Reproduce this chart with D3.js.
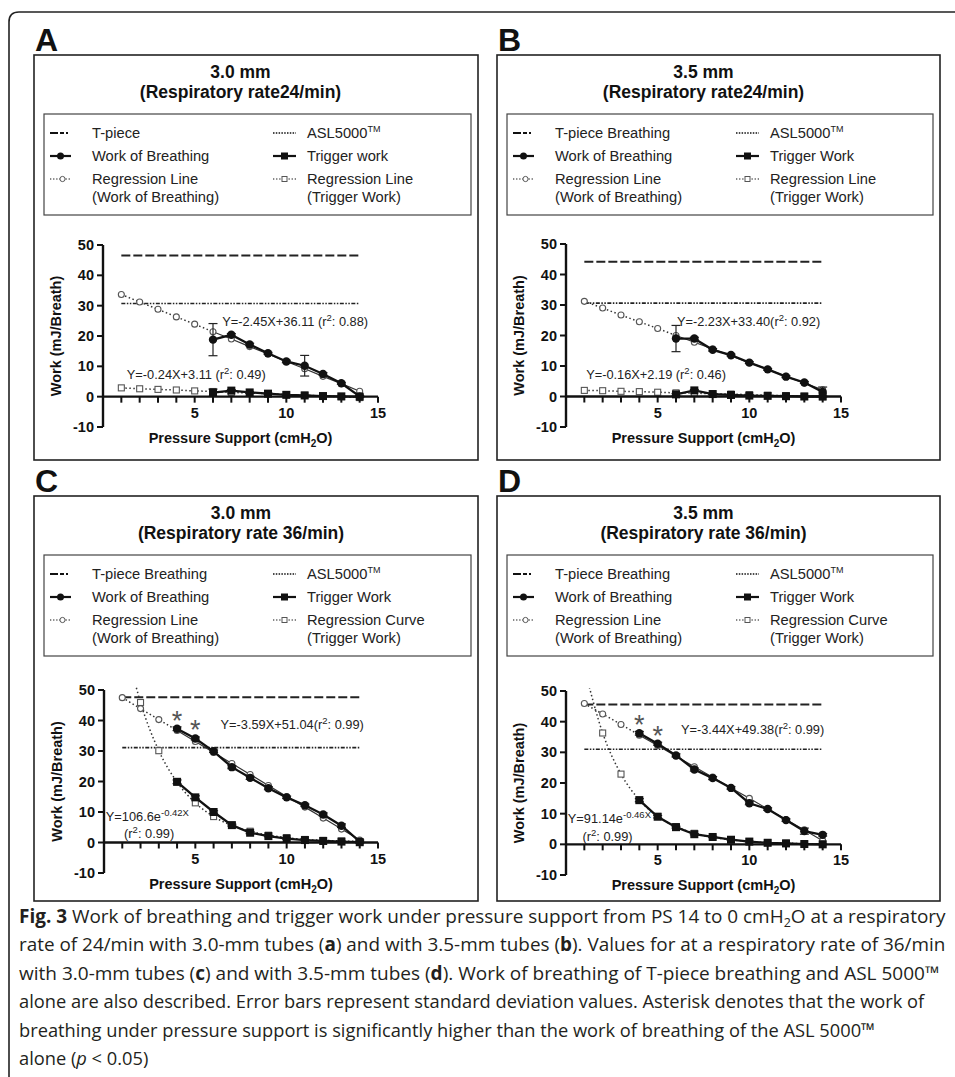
<!DOCTYPE html>
<html><head><meta charset="utf-8">
<script src="https://cdn.jsdelivr.net/npm/d3@7"></script>
<style>body{margin:0;background:#fff}svg{display:block}</style>
</head><body>
<svg id="c" width="955" height="1077"></svg>
<script>
// ---------------- DATA ----------------
const psAll = [1,2,3,4,5,6,7,8,9,10,11,12,13,14];
const xTicks = [5,10,15];
const xMinorTicks = [1,2,3,4,5,6,7,8,9,10,11,12,13,14,15];
const yTicks = [-10,0,10,20,30,40,50];

// Panel A : 3.0 mm, RR 24/min
const psMeasA = [6,7,8,9,10,11,12,13,14];
const wobA    = [18.8,20.4,17.2,14.3,11.6,10.2,7.5,4.4,0.1];
const wobSdA  = [5.3,0.4,0.4,0.3,0.4,3.4,0.4,0.3,0.3];
const trigA   = [1.3,2.0,1.4,1.0,0.6,0.4,0.2,0.1,0.0];
const trigSdA = [1.2,0.3,0.2,0.2,0.1,0.1,0.1,0.1,0.1];
const wobRegA = [33.7,31.2,28.8,26.3,23.9,21.4,19.0,16.5,14.1,11.6,9.2,6.7,4.3,1.8];
const trigRegA= [2.9,2.6,2.4,2.2,1.9,1.7,1.4,1.2,1.0,0.7,0.5,0.2,0.0,-0.3];
const tpieceA = 46.5, aslA = 30.7;

// Panel B : 3.5 mm, RR 24/min
const psMeasB = [6,7,8,9,10,11,12,13,14];
const wobB    = [19.0,19.0,15.3,13.6,11.1,8.9,6.5,4.6,1.5];
const wobSdB  = [4.3,0.4,0.4,0.3,0.3,0.3,0.3,0.3,1.6];
const trigB   = [0.7,2.0,0.8,0.5,0.3,0.2,0.1,0.0,0.0];
const trigSdB = [0.3,0.3,0.2,0.2,0.1,0.1,0.1,0.1,0.1];
const wobRegB = [31.2,29.0,26.7,24.5,22.3,20.0,17.8,15.6,13.3,11.1,8.9,6.6,4.4,2.2];
const trigRegB= [2.0,1.9,1.7,1.6,1.4,1.2,1.1,0.9,0.8,0.6,0.4,0.3,0.1,-0.1];
const tpieceB = 44.2, aslB = 30.6;

// Panel C : 3.0 mm, RR 36/min
const psMeasC = [4,5,6,7,8,9,10,11,12,13,14];
const wobC    = [37.3,34.1,29.9,24.7,21.2,17.8,14.8,12.2,9.2,5.5,0.3];
const wobSdC  = [0.6,0.5,0.4,0.5,0.5,0.5,0.4,0.4,0.5,0.6,0.5];
const trigC   = [19.9,14.8,10.0,5.7,3.2,2.1,1.3,0.8,0.5,0.3,0.1];
const trigSdC = [0.6,0.5,0.4,0.3,0.3,0.2,0.2,0.1,0.1,0.1,0.1];
const wobRegC = [47.5,43.9,40.3,36.7,33.1,29.5,25.9,22.3,18.7,15.1,11.6,8.0,4.4,0.8];
const trigRegC= [69.9,45.9,30.1,19.8,13.0,8.5,5.6,3.7,2.4,1.6,1.0,0.7,0.5,0.3];
const tpieceC = 47.6, aslC = 31.1;

// Panel D : 3.5 mm, RR 36/min
const psMeasD = [4,5,6,7,8,9,10,11,12,13,14];
const wobD    = [36.2,32.8,29.0,24.4,21.6,18.4,13.4,11.5,7.9,4.3,3.1];
const wobSdD  = [0.6,0.5,0.5,0.5,0.5,0.4,0.5,0.4,0.4,1.0,0.4];
const trigD   = [14.4,9.0,5.6,3.3,2.4,1.5,0.9,0.5,0.3,0.1,0.0];
const trigSdD = [0.5,0.4,0.3,0.2,0.2,0.1,0.1,0.1,0.1,0.1,0.1];
const wobRegD = [45.9,42.5,39.1,35.6,32.2,28.7,25.3,21.9,18.4,15.0,11.5,8.1,4.7,1.2];
const trigRegD= [57.6,36.3,22.9,14.5,9.1,5.8,3.6,2.3,1.5,0.9,0.6,0.4,0.2,0.1];
const tpieceD = 45.6, aslD = 31.0;

const asteriskPs = [4,5];

// ---------------- DRAWING ----------------
const F = "'Liberation Sans', Arial, Helvetica, sans-serif";
const svg = d3.select('#c');
const defs = svg.append('defs');

// outer frame
svg.append('path')
  .attr('d','M9,1077 L9,22 Q9,12 19,12 L955,12')
  .attr('fill','none').attr('stroke','#222').attr('stroke-width',1.6);

function addTM(t){ t.append('tspan').attr('dy',-6).attr('font-size',9).text('TM'); }

function drawPanel(p, idx){
  const g = svg.append('g');
  const [bx,by,bw,bh] = p.box;
  g.append('rect').attr('x',bx).attr('y',by).attr('width',bw).attr('height',bh)
    .attr('fill','none').attr('stroke','#222').attr('stroke-width',1.6);
  g.append('text').attr('x',bx+1).attr('y',by-4).attr('font-family',F)
    .attr('font-size',32).attr('font-weight','bold').attr('fill','#111').text(p.letter);

  const x = d3.scaleLinear().domain([0,15]).range(p.xr);
  const y = d3.scaleLinear().domain([-10,50]).range(p.yr);
  const cx = (p.xr[0]+p.xr[1])/2;

  g.append('text').attr('x',cx).attr('y',by+23).attr('text-anchor','middle')
    .attr('font-family',F).attr('font-size',17.5).attr('font-weight','bold').attr('fill','#111').text(p.title1);
  g.append('text').attr('x',cx).attr('y',by+43).attr('text-anchor','middle')
    .attr('font-family',F).attr('font-size',17.5).attr('font-weight','bold').attr('fill','#111').text(p.title2);

  // legend
  const lx = bx+10, ly = by+59, lw = bw-17, lh = 101;
  g.append('rect').attr('x',lx).attr('y',ly).attr('width',lw).attr('height',lh)
    .attr('fill','none').attr('stroke','#444').attr('stroke-width',1.2);
  const lt = (xx,yy,s)=> g.append('text').attr('x',xx).attr('y',yy).attr('font-family',F)
    .attr('font-size',14.7).attr('fill','#222').text(s);
  const rows = [ly+24, ly+47, ly+70, ly+88];
  const c1s = lx+6, c1e = lx+27, c2s = lx+229, c2e = lx+252;
  const t1 = lx+48, t2 = lx+263;
  const sym = (xs,xe,yy,dash,w)=> g.append('line').attr('x1',xs).attr('x2',xe).attr('y1',yy).attr('y2',yy)
      .attr('stroke','#111').attr('stroke-width',w).attr('stroke-dasharray',dash);
  sym(c1s,c1e,rows[0]-5,'8,2,4,2,2',2);
  sym(c2s,c2e,rows[0]-5,'1.5,1.3',1.4);
  sym(c1s,c1e,rows[1]-5,null,2.2);
  g.append('circle').attr('cx',(c1s+c1e)/2).attr('cy',rows[1]-5).attr('r',3.5).attr('fill','#111');
  sym(c2s,c2e,rows[1]-5,null,2.2);
  g.append('rect').attr('x',(c2s+c2e)/2-3.5).attr('y',rows[1]-8.5).attr('width',7).attr('height',7).attr('fill','#111');
  sym(c1s,c1e,rows[2]-5,'1.3,1.8',1.2);
  g.append('circle').attr('cx',(c1s+c1e)/2+2).attr('cy',rows[2]-5).attr('r',2.6).attr('fill','#fff').attr('stroke','#555').attr('stroke-width',1);
  sym(c2s,c2e,rows[2]-5,'1.3,1.8',1.2);
  g.append('rect').attr('x',(c2s+c2e)/2-2.5).attr('y',rows[2]-7.5).attr('width',5).attr('height',5).attr('fill','#fff').attr('stroke','#555').attr('stroke-width',1);
  lt(t1,rows[0],p.leg[0]);
  const asl = lt(t2,rows[0],p.leg[1]); addTM(asl);
  lt(t1,rows[1],p.leg[2]);
  lt(t2,rows[1],p.leg[3]);
  lt(t1,rows[2],p.leg[4]);
  lt(t2,rows[2],p.leg[5]);
  lt(t1,rows[3],p.leg[6]);
  lt(t2,rows[3],p.leg[7]);

  // clip
  const cid = 'clip'+idx;
  defs.append('clipPath').attr('id',cid).append('rect')
    .attr('x',p.xr[0]).attr('y',y(51)).attr('width',p.xr[1]-p.xr[0]+10).attr('height',y(-10)-y(51));
  const pg = g.append('g').attr('clip-path',`url(#${cid})`);

  // reference lines
  pg.append('line').attr('x1',x(1)).attr('x2',x(14)).attr('y1',y(p.tpiece)).attr('y2',y(p.tpiece))
    .attr('stroke','#222').attr('stroke-width',2).attr('stroke-dasharray','9,3');
  pg.append('line').attr('x1',x(1)).attr('x2',x(14)).attr('y1',y(p.asl)).attr('y2',y(p.asl))
    .attr('stroke','#222').attr('stroke-width',1.6).attr('stroke-dasharray','4,1.5,1.5,1.5,1.5,1.5');

  // regression lines
  const regPts = (arr)=> psAll.map((v,i)=>[v,arr[i]]);
  const ln = d3.line().x(d=>x(d[0])).y(d=>y(d[1]));
  const lnC = d3.line().x(d=>x(d[0])).y(d=>y(d[1])).curve(d3.curveMonotoneX);
  const wr = regPts(p.wobReg), tr = regPts(p.trigReg);
  const first = p.psMeas[0];
  pg.append('path').attr('d',ln(wr.filter(d=>d[0]<=first))).attr('fill','none')
    .attr('stroke','#333').attr('stroke-width',1.5).attr('stroke-dasharray','1.5,2.5');
  pg.append('path').attr('d',ln(wr.filter(d=>d[0]>=first))).attr('fill','none')
    .attr('stroke','#333').attr('stroke-width',1.2);
  pg.append('path').attr('d',(p.curve?lnC:ln)(tr)).attr('fill','none')
    .attr('stroke','#333').attr('stroke-width',1.5).attr('stroke-dasharray','1.5,2.5');
  pg.selectAll(null).data(wr.filter(d=>d[1]<=50)).join('circle')
    .attr('cx',d=>x(d[0])).attr('cy',d=>y(d[1])).attr('r',3)
    .attr('fill','#fff').attr('stroke','#555').attr('stroke-width',1.1);
  pg.selectAll(null).data(tr.filter(d=>d[1]<=50)).join('rect')
    .attr('x',d=>x(d[0])-3).attr('y',d=>y(d[1])-3).attr('width',6).attr('height',6)
    .attr('fill','#fff').attr('stroke','#555').attr('stroke-width',1.1);

  // measured data
  const wm = p.psMeas.map((v,i)=>[v,p.wob[i],p.wobSd[i]]);
  const tm = p.psMeas.map((v,i)=>[v,p.trig[i],p.trigSd[i]]);
  [wm,tm].forEach(arr=>{
    pg.append('path').attr('d',ln(arr)).attr('fill','none').attr('stroke','#111').attr('stroke-width',2.3);
    const eb = pg.selectAll(null).data(arr).join('g').attr('stroke','#222').attr('stroke-width',1.2);
    eb.append('line').attr('x1',d=>x(d[0])).attr('x2',d=>x(d[0])).attr('y1',d=>y(d[1]-d[2])).attr('y2',d=>y(d[1]+d[2]));
    eb.append('line').attr('x1',d=>x(d[0])-4.5).attr('x2',d=>x(d[0])+4.5).attr('y1',d=>y(d[1]+d[2])).attr('y2',d=>y(d[1]+d[2]));
    eb.append('line').attr('x1',d=>x(d[0])-4.5).attr('x2',d=>x(d[0])+4.5).attr('y1',d=>y(d[1]-d[2])).attr('y2',d=>y(d[1]-d[2]));
  });
  pg.selectAll(null).data(wm).join('circle').attr('cx',d=>x(d[0])).attr('cy',d=>y(d[1])).attr('r',4.2).attr('fill','#111');
  pg.selectAll(null).data(tm).join('rect').attr('x',d=>x(d[0])-4).attr('y',d=>y(d[1])-4).attr('width',8).attr('height',8).attr('fill','#111');

  // asterisks
  if (p.stars){
    g.selectAll(null).data(asteriskPs).join('text')
      .attr('x',d=>x(d)).attr('y',d=>y(p.wob[p.psMeas.indexOf(d)])+1)
      .attr('text-anchor','middle').attr('font-family',F).attr('font-size',27).attr('fill','#555').text('*');
  }

  // axes
  const ax = g.append('g').attr('stroke','#111').attr('fill','none');
  ax.append('line').attr('x1',x(0)).attr('x2',x(0)).attr('y1',y(50)).attr('y2',y(-10)).attr('stroke-width',2.4);
  ax.append('line').attr('x1',x(0)).attr('x2',x(15)).attr('y1',y(0)).attr('y2',y(0)).attr('stroke-width',2.4);
  yTicks.forEach(t=> ax.append('line').attr('x1',x(0)-6).attr('x2',x(0)).attr('y1',y(t)).attr('y2',y(t)).attr('stroke-width',2));
  xMinorTicks.forEach(t=> ax.append('line').attr('x1',x(t)).attr('x2',x(t)).attr('y1',y(0)).attr('y2',y(0)+6).attr('stroke-width',2));
  g.selectAll(null).data(yTicks).join('text').attr('x',x(0)-9).attr('y',d=>y(d)+5)
    .attr('text-anchor','end').attr('font-family',F).attr('font-size',14.5).attr('font-weight','bold').attr('fill','#111').text(d=>d);
  g.selectAll(null).data(xTicks).join('text').attr('x',d=>x(d)).attr('y',y(0)+21)
    .attr('text-anchor','middle').attr('font-family',F).attr('font-size',14.5).attr('font-weight','bold').attr('fill','#111').text(d=>d);
  const xl = g.append('text').attr('x',cx).attr('y',y(0)+46).attr('text-anchor','middle')
    .attr('font-family',F).attr('font-size',14.5).attr('font-weight','bold').attr('fill','#111');
  xl.append('tspan').text('Pressure Support (cmH');
  xl.append('tspan').attr('dy',4).attr('font-size',10).text('2');
  xl.append('tspan').attr('dy',-4).text('O)');
  g.append('text').attr('transform',`translate(${x(0)-42},${(y(50)+y(-10))/2}) rotate(-90)`)
    .attr('text-anchor','middle').attr('font-family',F).attr('font-size',14.5).attr('font-weight','bold').attr('fill','#111')
    .text('Work (mJ/Breath)');

  // annotations
  p.ann.forEach(a=>{
    const t = g.append('text').attr('x',x(a.x)).attr('y',y(a.y)).attr('font-family',F).attr('font-size',12.8).attr('fill','#222');
    a.parts.forEach(pt=>{
      const s = t.append('tspan').text(pt[0]);
      if (pt[1]==='sup') s.attr('dy',-5).attr('font-size',9.5);
      if (pt[1]==='back') s.attr('dy',5);
    });
  });
}

const legAB = ['T-piece','ASL5000','Work of Breathing','Trigger work','Regression Line','Regression Line',' (Work of Breathing)','(Trigger Work)'];
const legB  = ['T-piece Breathing',' ASL5000','Work of Breathing','Trigger Work','Regression Line','Regression Line','(Work of Breathing)','(Trigger Work)'];
const legCD = ['T-piece Breathing','ASL5000','Work of Breathing','Trigger Work','Regression Line','Regression Curve','(Work of Breathing)','(Trigger Work)'];

const panels = [
  {letter:'A', box:[34,55,444,405], title1:'3.0 mm', title2:'(Respiratory rate24/min)', leg:legAB,
   xr:[103,378], yr:[427,245], psMeas:psMeasA, wob:wobA, wobSd:wobSdA, trig:trigA, trigSd:trigSdA,
   wobReg:wobRegA, trigReg:trigRegA, tpiece:tpieceA, asl:aslA, curve:false, stars:false,
   ann:[{x:6.5,y:23.2,parts:[['Y=-2.45X+36.11 (r'],['2','sup'],[': 0.88)','back']]},
        {x:1.3,y:5.8,parts:[['Y=-0.24X+3.11 (r'],['2','sup'],[': 0.49)','back']]}]},
  {letter:'B', box:[497,55,443,405], title1:'3.5 mm', title2:'(Respiratory rate24/min)', leg:legB,
   xr:[566,841], yr:[427,244], psMeas:psMeasB, wob:wobB, wobSd:wobSdB, trig:trigB, trigSd:trigSdB,
   wobReg:wobRegB, trigReg:trigRegB, tpiece:tpieceB, asl:aslB, curve:false, stars:false,
   ann:[{x:6.05,y:23.0,parts:[['Y=-2.23X+33.40(r'],['2','sup'],[': 0.92)','back']]},
        {x:1.1,y:5.7,parts:[['Y=-0.16X+2.19 (r'],['2','sup'],[': 0.46)','back']]}]},
  {letter:'C', box:[34,496,444,405], title1:'3.0 mm', title2:'(Respiratory rate 36/min)', leg:legCD,
   xr:[104,378], yr:[873,690], psMeas:psMeasC, wob:wobC, wobSd:wobSdC, trig:trigC, trigSd:trigSdC,
   wobReg:wobRegC, trigReg:trigRegC, tpiece:tpieceC, asl:aslC, curve:true, stars:true,
   ann:[{x:6.38,y:37.3,parts:[['Y=-3.59X+51.04(r'],['2','sup'],[': 0.99)','back']]},
        {x:0.1,y:6.9,parts:[['Y=106.6e'],['-0.42X','sup']]},
        {x:1.1,y:1.5,parts:[['(r'],['2','sup'],[': 0.99)','back']]}]},
  {letter:'D', box:[497,496,443,405], title1:'3.5 mm', title2:'(Respiratory rate 36/min)', leg:legCD,
   xr:[566,841], yr:[875,691], psMeas:psMeasD, wob:wobD, wobSd:wobSdD, trig:trigD, trigSd:trigSdD,
   wobReg:wobRegD, trigReg:trigRegD, tpiece:tpieceD, asl:aslD, curve:true, stars:true,
   ann:[{x:6.27,y:36.1,parts:[['Y=-3.44X+49.38(r'],['2','sup'],[': 0.99)','back']]},
        {x:0.1,y:7.0,parts:[['Y=91.14e'],['-0.46X','sup']]},
        {x:0.9,y:1.1,parts:[['(r'],['2','sup'],[': 0.99)','back']]}]}
];
panels.forEach((p,i)=>drawPanel(p,i));

// caption: full lines scaled to their measured width; last two lines use the same squeeze
const CF = "'Open Sans','Liberation Sans',sans-serif";
const capLines = [
  {y:923, w:927, full:true, parts:[['Fig. 3','b'],[' Work of breathing and trigger work under pressure support from PS 14 to 0 cmH'],['2','sub'],['O at a respiratory','up']]},
  {y:951, w:927, full:true, parts:[['rate of 24/min with 3.0-mm tubes ('],['a','b'],[') and with 3.5-mm tubes ('],['b','b'],['). Values for at a respiratory rate of 36/min']]},
  {y:980, w:921, full:true, parts:[['with 3.0-mm tubes ('],['c','b'],[') and with 3.5-mm tubes ('],['d','b'],['). Work of breathing of T-piece breathing and ASL 5000™']]},
  {y:1008, w:906, full:true, parts:[['alone are also described. Error bars represent standard deviation values. Asterisk denotes that the work of']]},
  {y:1037, w:755, full:false, parts:[['breathing under pressure support is significantly higher than the work of breathing of the ASL 5000™']]},
  {y:1065, w:116, full:false, parts:[['alone ('],['p','i'],[' < 0.05)']]}
];
const capG = svg.append('g');
const ks = [];
const capTexts = capLines.map(l=>{
  const t = capG.append('text').attr('x',19).attr('y',l.y).attr('font-family',CF).attr('font-size',19)
    .attr('fill','#231f20');
  l.parts.forEach(pt=>{
    const s = t.append('tspan').text(pt[0]);
    if (pt[1]==='b') s.attr('font-weight','bold');
    if (pt[1]==='i') s.attr('font-style','italic');
    if (pt[1]==='sub') s.attr('dy',4).attr('font-size',12.5);
    if (pt[1]==='up') s.attr('dy',-4);
  });
  const nat = t.node().getComputedTextLength();
  if (l.full && nat > 0) ks.push(l.w/nat);
  return [t,nat];
});
const kMin = ks.length ? Math.min(...ks) : 0.95;
capTexts.forEach(([t,nat],i)=>{
  const l = capLines[i];
  const k = (l.full && nat > 0) ? l.w/nat : kMin;
  t.attr('x',19/k).attr('transform',`scale(${k},1)`);
});
</script>
</body></html>
